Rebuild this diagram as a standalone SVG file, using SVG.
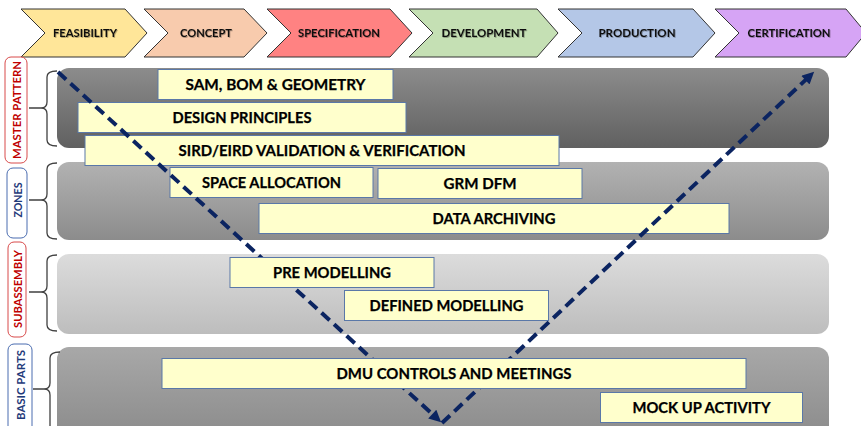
<svg xmlns="http://www.w3.org/2000/svg" width="861" height="426" viewBox="0 0 861 426">
<defs>
<linearGradient id="g1" x1="0" y1="0" x2="0" y2="1"><stop offset="0" stop-color="#8c8c8c"/><stop offset="1" stop-color="#606060"/></linearGradient>
<linearGradient id="g2" x1="0" y1="0" x2="0" y2="1"><stop offset="0" stop-color="#b2b2b2"/><stop offset="1" stop-color="#8c8c8c"/></linearGradient>
<linearGradient id="g3" x1="0" y1="0" x2="0" y2="1"><stop offset="0" stop-color="#dcdcdc"/><stop offset="1" stop-color="#bdbdbd"/></linearGradient>
<linearGradient id="g4" x1="0" y1="0" x2="0" y2="1"><stop offset="0" stop-color="#a8a8a8"/><stop offset="1" stop-color="#8a8a8a"/></linearGradient>
<filter id="sh" x="-10%" y="-40%" width="120%" height="180%"><feDropShadow dx="0.8" dy="0.8" stdDeviation="0.6" flood-color="#000" flood-opacity="0.35"/></filter>
<marker id="ah" viewBox="0 0 10 10" refX="4" refY="5" markerWidth="14" markerHeight="12" markerUnits="userSpaceOnUse" orient="auto"><path d="M0,0 L10,5 L0,10 z" fill="#0b2461"/></marker>
</defs>
<style>
.chev{stroke:#333;stroke-width:1}
.ct{font-family:Lato,"Liberation Sans",sans-serif;font-weight:700;font-size:11px;fill:#111;text-anchor:middle;filter:url(#sh)}
.box{fill:#ffffcc;stroke:#5a78a8;stroke-width:1}
.bt{font-family:Lato,"Liberation Sans",sans-serif;font-weight:700;font-size:15px;fill:#000;text-anchor:middle;stroke:#000;stroke-width:0.25}
.brace{fill:none;stroke:#404040;stroke-width:1.3}
.lr{fill:#fff;stroke:#d84a4a;stroke-width:1}
.lb{fill:#fff;stroke:#4a6cb0;stroke-width:1}
.st{font-family:Lato,"Liberation Sans",sans-serif;font-weight:700;font-size:12px;text-anchor:middle}
.conn{fill:none;stroke:#0b2461;stroke-width:4;stroke-dasharray:11 6}
</style>
<rect width="861" height="426" fill="#fff"/>

<g id="phases">
<g id="p-feasibility"><path class="chev" fill="#ffe699" d="M21,9 L125,9 L147,33 L125,57 L21,57 L45,33 z"/><text class="ct" x="85" y="37" textLength="64" lengthAdjust="spacingAndGlyphs">FEASIBILITY</text></g>
<g id="p-concept"><path class="chev" fill="#f8cbad" d="M144,9 L244,9 L267,33 L244,57 L144,57 L168,33 z"/><text class="ct" x="206" y="37" textLength="52" lengthAdjust="spacingAndGlyphs">CONCEPT</text></g>
<g id="p-specification"><path class="chev" fill="#ff8282" d="M267,9 L390,9 L412,33 L390,57 L267,57 L291,33 z"/><text class="ct" x="339" y="37" textLength="82" lengthAdjust="spacingAndGlyphs">SPECIFICATION</text></g>
<g id="p-development"><path class="chev" fill="#c5e0b4" d="M409,9 L537,9 L558,33 L537,57 L409,57 L433,33 z"/><text class="ct" x="484" y="37" textLength="85" lengthAdjust="spacingAndGlyphs">DEVELOPMENT</text></g>
<g id="p-production"><path class="chev" fill="#b4c7e7" d="M558,9 L693,9 L715,33 L693,57 L558,57 L582,33 z"/><text class="ct" x="637" y="37" textLength="77" lengthAdjust="spacingAndGlyphs">PRODUCTION</text></g>
<g id="p-certification"><path class="chev" fill="#d6a4f5" d="M715,9 L846,9 L866,33 L846,57 L715,57 L739,33 z"/><text class="ct" x="789" y="37" textLength="83" lengthAdjust="spacingAndGlyphs">CERTIFICATION</text></g>
</g>

<g id="bands">
<rect id="band-master" x="57" y="68" width="772" height="80" rx="12" fill="url(#g1)"/>
<rect id="band-zones" x="57" y="162" width="772" height="78" rx="12" fill="url(#g2)"/>
<rect id="band-subassembly" x="57" y="254" width="772" height="80" rx="12" fill="url(#g3)"/>
<rect id="band-basic" x="57" y="347" width="772" height="95" rx="12" fill="url(#g4)"/>
</g>

<g id="side-labels">
<g id="l-master"><rect class="lr" x="5" y="57" width="22" height="106" rx="6"/><text class="st" fill="#c00000" transform="translate(20.5,110) rotate(-90)" textLength="98" lengthAdjust="spacingAndGlyphs">MASTER PATTERN</text></g>
<g id="l-zones"><rect class="lb" x="7" y="168" width="20" height="70" rx="6"/><text class="st" fill="#1f3a7a" transform="translate(21.5,200) rotate(-90)" textLength="35" lengthAdjust="spacingAndGlyphs">ZONES</text></g>
<g id="l-subassembly"><rect class="lr" x="8" y="242" width="18" height="95" rx="6"/><text class="st" fill="#c00000" transform="translate(21.5,289) rotate(-90)" textLength="78" lengthAdjust="spacingAndGlyphs">SUBASSEMBLY</text></g>
<g id="l-basic"><rect class="lb" x="8" y="344" width="24" height="90" rx="6"/><text class="st" fill="#1f3a7a" transform="translate(24.5,385) rotate(-90)" textLength="70" lengthAdjust="spacingAndGlyphs">BASIC PARTS</text></g>
</g>

<g id="braces">
<path class="brace" d="M57,71 Q47,71 47,77 L47,102 Q47,108 41,108 L29,108 M41,108 Q47,108 47,114 L47,140 Q47,146 57,146"/>
<path class="brace" d="M57,163 Q47,163 47,169 L47,194 Q47,200 41,200 L29,200 M41,200 Q47,200 47,206 L47,233 Q47,239 57,239"/>
<path class="brace" d="M57,255 Q47,255 47,261 L47,286 Q47,292 41,292 L29,292 M41,292 Q47,292 47,298 L47,325 Q47,331 57,331"/>
<path class="brace" d="M60,352 Q50,352 50,358 L50,383 Q50,389 44,389 L33,389 M44,389 Q50,389 50,395 L50,430"/>
</g>

<g id="upper-tasks">
<g id="t-sam"><rect class="box" x="158" y="69.5" width="235" height="30"/><text class="bt" x="275.5" y="90" textLength="180" lengthAdjust="spacingAndGlyphs">SAM, BOM &amp; GEOMETRY</text></g>
<g id="t-design"><rect class="box" x="78" y="102.5" width="328" height="30"/><text class="bt" x="242" y="123" textLength="139" lengthAdjust="spacingAndGlyphs">DESIGN PRINCIPLES</text></g>
<g id="t-sird"><rect class="box" x="85" y="135.5" width="474" height="30"/><text class="bt" x="322" y="156" textLength="287" lengthAdjust="spacingAndGlyphs">SIRD/EIRD VALIDATION &amp; VERIFICATION</text></g>
<g id="t-space"><rect class="box" x="170" y="167.5" width="203" height="30"/><text class="bt" x="271.5" y="188" textLength="139" lengthAdjust="spacingAndGlyphs">SPACE ALLOCATION</text></g>
<g id="t-grm"><rect class="box" x="378" y="168.5" width="204" height="30"/><text class="bt" x="480" y="189" textLength="73" lengthAdjust="spacingAndGlyphs">GRM DFM</text></g>
<g id="t-data"><rect class="box" x="259" y="203.5" width="470" height="30"/><text class="bt" x="494" y="224" textLength="123" lengthAdjust="spacingAndGlyphs">DATA ARCHIVING</text></g>
</g>

<g id="connectors">
<line class="conn" x1="58" y1="72" x2="435.8" y2="417.3" marker-end="url(#ah)"/>
<line class="conn" x1="442" y1="423" x2="808.9" y2="76.8" marker-end="url(#ah)"/>
</g>

<g id="lower-tasks">
<g id="t-pre"><rect class="box" x="230" y="257.5" width="204" height="30"/><text class="bt" x="332" y="278" textLength="118" lengthAdjust="spacingAndGlyphs">PRE MODELLING</text></g>
<g id="t-defined"><rect class="box" x="344.5" y="290.5" width="204" height="30"/><text class="bt" x="446.5" y="311" textLength="154" lengthAdjust="spacingAndGlyphs">DEFINED MODELLING</text></g>
<g id="t-dmu"><rect class="box" x="162" y="358.5" width="584" height="30"/><text class="bt" x="454" y="379" textLength="235" lengthAdjust="spacingAndGlyphs">DMU CONTROLS AND MEETINGS</text></g>
<g id="t-mock"><rect class="box" x="600.5" y="392.5" width="202" height="30"/><text class="bt" x="701.5" y="413" textLength="138" lengthAdjust="spacingAndGlyphs">MOCK UP ACTIVITY</text></g>
</g>
</svg>
